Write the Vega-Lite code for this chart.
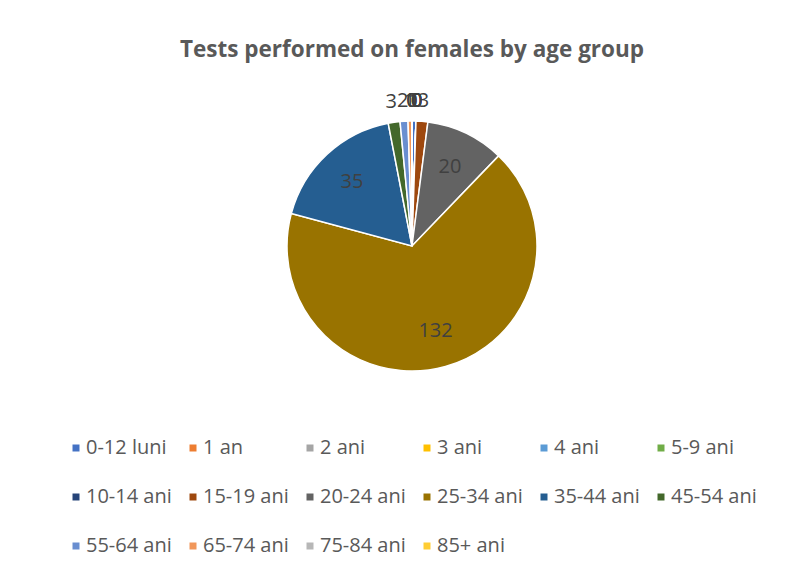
{
  "$schema": "https://vega.github.io/schema/vega-lite/v6.json",
  "width": 824,
  "height": 364,
  "autosize": "none",
  "padding": {"top": 64, "left": 0, "right": 0, "bottom": 134},
  "background": "white",
  "view": {"stroke": null},
  "title": {
    "text": "Tests performed on females by age group",
    "font": "Open Sans",
    "fontSize": 22.5,
    "fontWeight": "bold",
    "color": "#595959",
    "anchor": "middle",
    "offset": 3
  },
  "data": {
    "values": [
      {"group": "0-12 luni", "value": 1, "order": 1},
      {"group": "1 an", "value": 0, "order": 2},
      {"group": "2 ani", "value": 0, "order": 3},
      {"group": "3 ani", "value": 0, "order": 4},
      {"group": "4 ani", "value": 0, "order": 5},
      {"group": "5-9 ani", "value": 0, "order": 6},
      {"group": "10-14 ani", "value": 0, "order": 7},
      {"group": "15-19 ani", "value": 3, "order": 8},
      {"group": "20-24 ani", "value": 20, "order": 9},
      {"group": "25-34 ani", "value": 132, "order": 10},
      {"group": "35-44 ani", "value": 35, "order": 11},
      {"group": "45-54 ani", "value": 3, "order": 12},
      {"group": "55-64 ani", "value": 2, "order": 13},
      {"group": "65-74 ani", "value": 1, "order": 14},
      {"group": "75-84 ani", "value": 0, "order": 15},
      {"group": "85+ ani", "value": 0, "order": 16}
    ]
  },
  "encoding": {
    "theta": {"field": "value", "type": "quantitative", "stack": true},
    "order": {"field": "order", "type": "quantitative"}
  },
  "layer": [
    {
      "mark": {"type": "arc", "outerRadius": 125, "stroke": "white", "strokeWidth": 1.5},
      "encoding": {
        "color": {
          "field": "group",
          "type": "nominal",
          "sort": ["0-12 luni","1 an","2 ani","3 ani","4 ani","5-9 ani","10-14 ani","15-19 ani","20-24 ani","25-34 ani","35-44 ani","45-54 ani","55-64 ani","65-74 ani","75-84 ani","85+ ani"],
          "scale": {
            "domain": ["0-12 luni","1 an","2 ani","3 ani","4 ani","5-9 ani","10-14 ani","15-19 ani","20-24 ani","25-34 ani","35-44 ani","45-54 ani","55-64 ani","65-74 ani","75-84 ani","85+ ani"],
            "range": ["#4472C4","#ED7D31","#A5A5A5","#FFC000","#5B9BD5","#70AD47","#264478","#9E480E","#636363","#997300","#255E91","#43682B","#698ED0","#F1975A","#B7B7B7","#FFCD33"]
          },
          "legend": {
            "title": null,
            "orient": "none",
            "legendX": 66,
            "legendY": 374,
            "padding": 0,
            "direction": "horizontal",
            "columns": 6,
            "gridAlign": "all",
            "symbolType": "square",
            "symbolSize": 49,
            "symbolStrokeWidth": 0,
            "labelFont": "Open Sans",
            "labelFontSize": 20,
            "labelColor": "#595959",
            "labelLimit": 200,
            "labelOffset": 0,
            "columnPadding": 11,
            "rowPadding": 29
          }
        }
      }
    },
    {
      "mark": {"type": "text", "radius": 88, "font": "Open Sans", "fontSize": 20, "color": "#404040"},
      "encoding": {
        "text": {"condition": {"test": "datum.value >= 10", "field": "value", "type": "quantitative"}, "value": ""}
      }
    },
    {
      "mark": {"type": "text", "radius": 145, "font": "Open Sans", "fontSize": 20, "color": "#404040"},
      "encoding": {
        "text": {"condition": {"test": "datum.value < 10", "field": "value", "type": "quantitative"}, "value": ""}
      }
    }
  ]
}
